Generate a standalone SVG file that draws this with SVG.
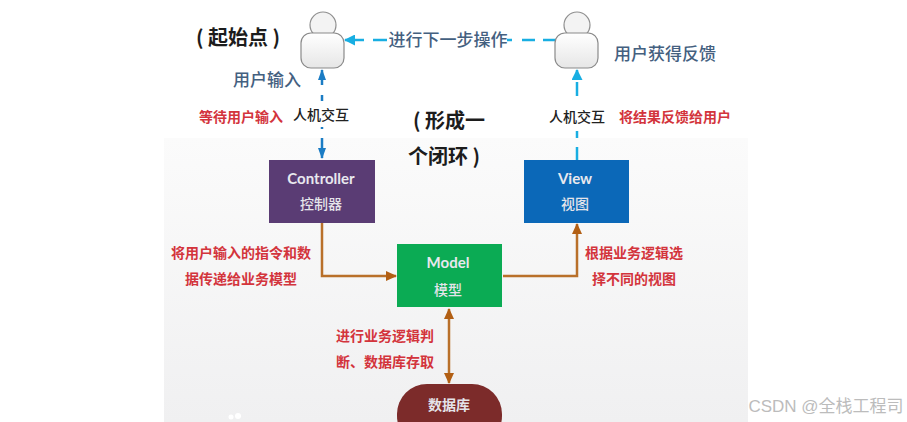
<svg xmlns="http://www.w3.org/2000/svg" width="907" height="422" viewBox="0 0 907 422">
<defs>
<linearGradient id="bg" x1="0" y1="0" x2="0" y2="1"><stop offset="0" stop-color="#fbfbfb"/><stop offset="1" stop-color="#f0f0f1"/></linearGradient>
<linearGradient id="body" x1="0" y1="0" x2="0" y2="1"><stop offset="0" stop-color="#ffffff"/><stop offset="1" stop-color="#e6e6e6"/></linearGradient>
<marker id="o" markerWidth="11" markerHeight="10" refX="10" refY="5" orient="auto-start-reverse" markerUnits="userSpaceOnUse"><path d="M0 0L11 5L0 10Z" fill="#b25f14"/></marker>
<marker id="b" markerWidth="11" markerHeight="8" refX="10" refY="4" orient="auto-start-reverse" markerUnits="userSpaceOnUse"><path d="M0 0L11 4L0 8Z" fill="#1b7cc4"/></marker>
<marker id="c" markerWidth="11" markerHeight="11" refX="10" refY="5.5" orient="auto-start-reverse" markerUnits="userSpaceOnUse"><path d="M0 0L11 5.5L0 11Z" fill="#18aee2"/></marker>
</defs>
<style>
text{font-family:"Noto Sans CJK SC","Liberation Sans",sans-serif;text-anchor:middle}
.en{font-family:"Lato","Liberation Sans",sans-serif;font-weight:700;font-size:15px;fill:#e8e8ee}
.zh{font-size:14px;font-weight:500;fill:#e4e4ea}
.red{font-size:14px;font-weight:700;fill:#d3343c}
.big{font-size:20px;font-weight:700;fill:#1c1c1c}
.blue{font-size:17px;font-weight:500;fill:#44607f}
.blk{font-size:14px;font-weight:500;fill:#222}
.ol{fill:none;stroke:#b9702a;stroke-width:2.5}
.cy{fill:none;stroke:#18aee2;stroke-width:2.5}
.bl{fill:none;stroke:#1b7cc4;stroke-width:2.5}
.head{fill:#f3f3f3;stroke:#8f8f8f;stroke-width:1.2}
.bd{fill:url(#body);stroke:#8a8a8a;stroke-width:1.2}
</style>
<rect width="907" height="422" fill="#fff"/>
<rect x="164" y="138" width="584" height="284" fill="url(#bg)"/>
<circle cx="231" cy="417" r="2.5" fill="#fff"/><circle cx="238" cy="416" r="3" fill="#fff"/>
<g id="connectors">
<path class="ol" d="M322 223V276H396" marker-end="url(#o)"/>
<path class="ol" d="M503 276H577V224" marker-end="url(#o)"/>
<path class="ol" d="M449 309V383" marker-start="url(#o)" marker-end="url(#o)"/>
<path class="bl" d="M322 138V158" marker-end="url(#b)"/>
<path class="bl" d="M322 127V129"/>
<path class="bl" d="M322 95V101"/>
<path class="bl" d="M322 85V70" marker-end="url(#b)"/>
<path class="cy" d="M577 147V160M577 131V138M577 82V96"/>
<path class="cy" d="M577 80V70" marker-end="url(#c)"/>
<path class="cy" d="M556 40H543M535 40H522M512 40H507M387 40H373"/>
<path class="cy" d="M364 40H345" marker-end="url(#c)"/>
</g>
<g id="user1"><circle class="head" cx="323" cy="25" r="13"/><rect class="bd" x="301" y="33" width="43" height="35" rx="10"/></g>
<g id="user2"><circle class="head" cx="577" cy="25" r="13"/><rect class="bd" x="555" y="33" width="43" height="35" rx="10"/></g>
<g id="controller"><rect x="269" y="160" width="106" height="63" fill="#5a3c74"/><text class="en" x="321" y="184">Controller</text><text class="zh" x="321" y="209">控制器</text></g>
<g id="view"><rect x="524" y="160" width="105" height="63" fill="#0b68b8"/><text class="en" x="575" y="184">View</text><text class="zh" x="575" y="209">视图</text></g>
<g id="model"><rect x="397" y="244" width="105" height="63" fill="#0bab54"/><text class="en" x="448" y="268">Model</text><text class="zh" x="448" y="295">模型</text></g>
<g id="database"><rect x="397" y="384" width="105" height="62" rx="30" fill="#7c2b2a"/><text class="zh" x="449" y="410" style="font-weight:700">数据库</text></g>
<g id="labels">
<text class="big" x="238" y="45">( 起始点 )</text>
<text class="big" x="449" y="128">( 形成一</text>
<text class="big" x="444" y="164">个闭环 )</text>
<text class="blue" x="267" y="86">用户输入</text>
<text class="blue" x="665" y="60">用户获得反馈</text>
<text class="blue" x="448" y="46">进行下一步操作</text>
<text class="blk" x="321" y="120">人机交互</text>
<text class="blk" x="577" y="122">人机交互</text>
<text class="red" x="241" y="122">等待用户输入</text>
<text class="red" x="675" y="122">将结果反馈给用户</text>
<text class="red" x="241" y="258">将用户输入的指令和数</text>
<text class="red" x="241" y="284">据传递给业务模型</text>
<text class="red" x="385" y="341">进行业务逻辑判</text>
<text class="red" x="385" y="367">断、数据库存取</text>
<text class="red" x="634" y="258">根据业务逻辑选</text>
<text class="red" x="634" y="284">择不同的视图</text>
<text x="826" y="412" style="font-family:'Liberation Sans','Noto Sans CJK SC',sans-serif;font-size:17px;fill:#bcbcbc">CSDN @全栈工程司</text>
</g>
</svg>
